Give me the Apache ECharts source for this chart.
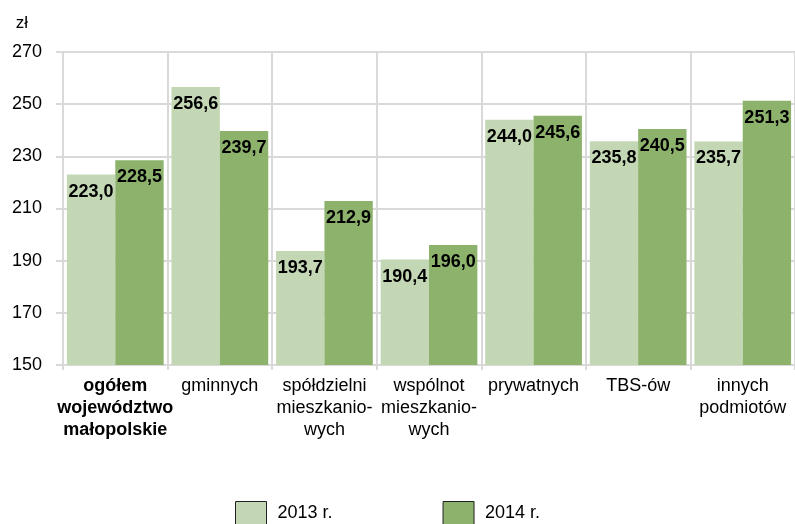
<!DOCTYPE html>
<html>
<head>
<meta charset="utf-8">
<script src="https://cdn.jsdelivr.net/npm/echarts@6/dist/echarts.min.js"></script>
<style>
  html, body { margin: 0; padding: 0; background: #fff; }
  #chart { width: 795px; height: 524px; }
</style>
</head>
<body>
<div id="chart"></div>
<script>
const categories = [
  'ogółem\nwojewództwo\nmałopolskie',
  'gminnych',
  'spółdzielni\nmieszkanio-\nwych',
  'wspólnot\nmieszkanio-\nwych',
  'prywatnych',
  'TBS-ów',
  'innych\npodmiotów'
];
const values2013 = [223.0, 256.6, 193.7, 190.4, 244.0, 235.8, 235.7];
const values2014 = [228.5, 239.7, 212.9, 196.0, 245.6, 240.5, 251.3];
const seriesNames = ['2013 r.', '2014 r.'];

const gridColor = '#d9d9d9';
const font = 'Liberation Sans, Arial, sans-serif';

const chart = echarts.init(document.getElementById('chart'));

const fmt = p => p.value.toFixed(1).replace('.', ',');

const barLabel = {
  show: true,
  position: 'insideTop',
  distance: 8,
  color: '#000',
  fontFamily: font,
  fontSize: 18,
  fontWeight: 'bold',
  formatter: fmt
};

chart.setOption({
  animation: false,
  textStyle: { fontFamily: font },
  grid: { left: 63, right: 0, top: 52, bottom: 159 },
  legend: {
    data: seriesNames,
    top: 501,
    left: 235,
    padding: 0,
    icon: 'rect',
    itemWidth: 31,
    itemHeight: 24,
    itemGap: 110,
    textStyle: { fontSize: 18, color: '#000', fontFamily: font, padding: [0, 0, 0, 6] },
    itemStyle: { borderColor: '#222', borderWidth: 1 }
  },
  xAxis: {
    type: 'category',
    data: categories.map((c, i) => i === 0 ? { value: c, textStyle: { fontWeight: 'bold' } } : c),
    axisLine: { show: true, lineStyle: { color: gridColor, width: 2 } },
    axisTick: { show: true, length: 5, lineStyle: { color: gridColor, width: 2 } },
    splitLine: { show: true, interval: 0, lineStyle: { color: gridColor, width: 2 } },
    axisLabel: {
      interval: 0,
      margin: 10,
      color: '#000',
      fontSize: 18,
      lineHeight: 22,
      fontFamily: font
    }
  },
  yAxis: {
    type: 'value',
    min: 150,
    max: 270,
    interval: 20,
    name: 'zł',
    nameLocation: 'end',
    nameGap: 20,
    nameTextStyle: { color: '#000', fontSize: 17, align: 'right', padding: [0, 35, 0, 0], fontFamily: font },
    axisLine: { show: false },
    axisTick: { show: true, inside: false, length: 7, lineStyle: { color: gridColor, width: 2 } },
    splitLine: { show: true, lineStyle: { color: gridColor, width: 2 } },
    axisLabel: { color: '#000', fontSize: 18, margin: 21, fontFamily: font }
  },
  series: [
    {
      name: seriesNames[0],
      type: 'bar',
      data: values2013,
      barGap: '0%',
      barCategoryGap: '7.5%',
      itemStyle: { color: '#c3d7b5' },
      label: barLabel
    },
    {
      name: seriesNames[1],
      type: 'bar',
      data: values2014,
      barGap: '0%',
      barCategoryGap: '7.5%',
      itemStyle: { color: '#8cb26c' },
      label: barLabel
    }
  ]
});
</script>
</body>
</html>
